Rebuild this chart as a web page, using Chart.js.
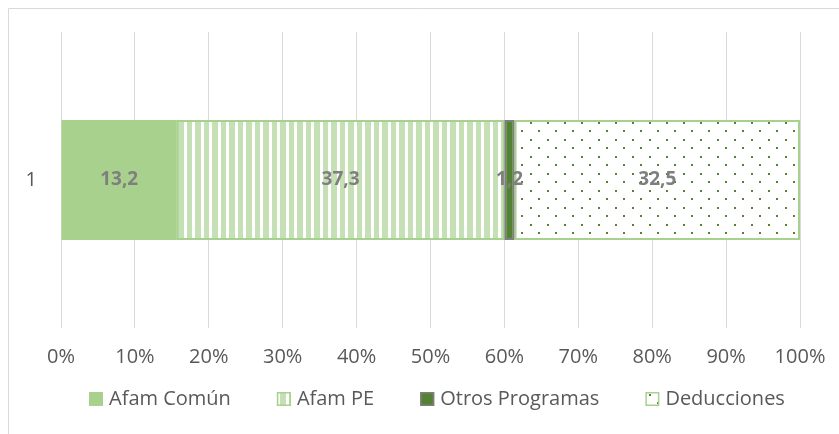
<!DOCTYPE html>
<html>
<head>
<meta charset="utf-8">
<script src="https://cdn.jsdelivr.net/npm/chart.js@4.4.1/dist/chart.umd.min.js"></script>
<style>
  html, body { margin: 0; padding: 0; background: #fff; }
  #wrap { position: relative; width: 839px; height: 434px; }
</style>
</head>
<body>
<div id="wrap"><canvas id="chart" width="839" height="434"></canvas></div>
<script>
const categories = ['1'];
const seriesNames = ['Afam Común', 'Afam PE', 'Otros Programas', 'Deducciones'];
const seriesValues = [13.2, 37.3, 1.2, 32.5];
const xTicks = [0, 10, 20, 30, 40, 50, 60, 70, 80, 90, 100];

const FONT = "'Open Sans', 'Noto Sans', sans-serif";
const total = seriesValues.reduce((a, b) => a + b, 0);

function stripePattern() {
  const c = document.createElement('canvas');
  c.width = 17; c.height = 8;
  const g = c.getContext('2d');
  g.fillStyle = '#ffffff';
  g.fillRect(0, 0, 17, 8);
  g.fillStyle = '#c5e0b4';
  g.fillRect(0, 0, 5, 8);
  g.fillRect(8, 0, 6, 8);
  return g.createPattern(c, 'repeat');
}

function dotPattern() {
  const c = document.createElement('canvas');
  c.width = 17; c.height = 17;
  const g = c.getContext('2d');
  g.fillStyle = '#ffffff';
  g.fillRect(0, 0, 17, 17);
  g.fillStyle = '#548235';
  g.fillRect(3, 3, 2, 2);
  g.fillRect(11, 11, 2, 2);
  return g.createPattern(c, 'repeat');
}

const fills = ['#a9d18e', stripePattern(), '#548235', dotPattern()];
const borders = ['#a9d18e', '#a9d18e', '#7f7f7f', '#a9d18e'];
const borderWidths = [0, 2, 2, 2];

// outer chart-area frame (only top and left edges are visible)
const frame = {
  id: 'frame',
  beforeDraw(chart) {
    const ctx = chart.ctx;
    ctx.save();
    ctx.strokeStyle = '#d9d9d9';
    ctx.lineWidth = 1;
    ctx.beginPath();
    ctx.moveTo(8.5, 434);
    ctx.lineTo(8.5, 8.5);
    ctx.lineTo(839, 8.5);
    ctx.stroke();
    ctx.restore();
  }
};

// Excel-like legend: small gap between box and text, wide gap between items
const bottomLegend = {
  id: 'bottomLegend',
  afterDraw(chart) {
    const ctx = chart.ctx;
    const box = 14, gap = 6, spacing = 46, cy = 399, cx = 436.5;
    ctx.save();
    ctx.font = '20px ' + FONT;
    const items = chart.data.datasets.map(ds => ({ ds, w: ctx.measureText(ds.label).width }));
    const rowW = items.reduce((s, it) => s + box + gap + it.w, 0) + spacing * (items.length - 1);
    let x = Math.round(cx - rowW / 2);
    items.forEach(({ ds, w }) => {
      ctx.fillStyle = ds.backgroundColor;
      ctx.fillRect(x, cy - box / 2, box, box);
      if (ds.borderWidth) {
        ctx.strokeStyle = ds.borderColor;
        ctx.lineWidth = 1.5;
        ctx.strokeRect(x + 0.75, cy - box / 2 + 0.75, box - 1.5, box - 1.5);
      }
      ctx.fillStyle = '#595959';
      ctx.textAlign = 'left';
      ctx.textBaseline = 'middle';
      ctx.fillText(ds.label, x + box + gap, cy);
      x += box + gap + w + spacing;
    });
    ctx.restore();
  }
};

const valueLabels = {
  id: 'valueLabels',
  afterDatasetsDraw(chart) {
    const ctx = chart.ctx;
    ctx.save();
    ctx.font = 'bold 19px ' + FONT;
    ctx.fillStyle = '#7f7f7f';
    ctx.textAlign = 'center';
    ctx.textBaseline = 'middle';
    chart.data.datasets.forEach((ds, i) => {
      chart.getDatasetMeta(i).data.forEach((bar, j) => {
        const p = bar.getCenterPoint();
        ctx.fillText(ds.raw[j].toFixed(1).replace('.', ','), p.x, p.y);
      });
    });
    ctx.restore();
  }
};

new Chart(document.getElementById('chart'), {
  type: 'bar',
  data: {
    labels: categories,
    datasets: seriesNames.map((name, i) => ({
      label: name,
      raw: [seriesValues[i]],
      data: [seriesValues[i] / total * 100],
      backgroundColor: fills[i],
      borderColor: borders[i],
      borderWidth: borderWidths[i],
      borderSkipped: false,
      categoryPercentage: 0.405,
      barPercentage: 1
    }))
  },
  options: {
    indexAxis: 'y',
    responsive: false,
    animation: false,
    layout: { padding: { top: 32, right: 39, bottom: 66, left: 0 } },
    scales: {
      x: {
        stacked: true,
        min: xTicks[0],
        max: xTicks[xTicks.length - 1],
        afterFit: scale => {
          scale.height = 40;
          scale.paddingLeft = 0;
          scale.paddingRight = 0;
        },
        ticks: {
          stepSize: xTicks[1] - xTicks[0],
          padding: 17,
          color: '#595959',
          font: { family: FONT, size: 20 },
          callback: v => v + '%',
          maxRotation: 0,
          autoSkip: false
        },
        grid: { color: '#d9d9d9', lineWidth: 1, drawTicks: false },
        border: { display: false }
      },
      y: {
        stacked: true,
        afterFit: scale => {
          scale.width = 61;
          scale.paddingTop = 0;
          scale.paddingBottom = 0;
        },
        ticks: {
          padding: 24,
          color: '#595959',
          font: { family: FONT, size: 20 }
        },
        grid: { display: false, drawTicks: false },
        border: { display: false }
      }
    },
    plugins: {
      legend: { display: false },
      tooltip: { enabled: false }
    }
  },
  plugins: [frame, valueLabels, bottomLegend]
});
</script>
</body>
</html>
